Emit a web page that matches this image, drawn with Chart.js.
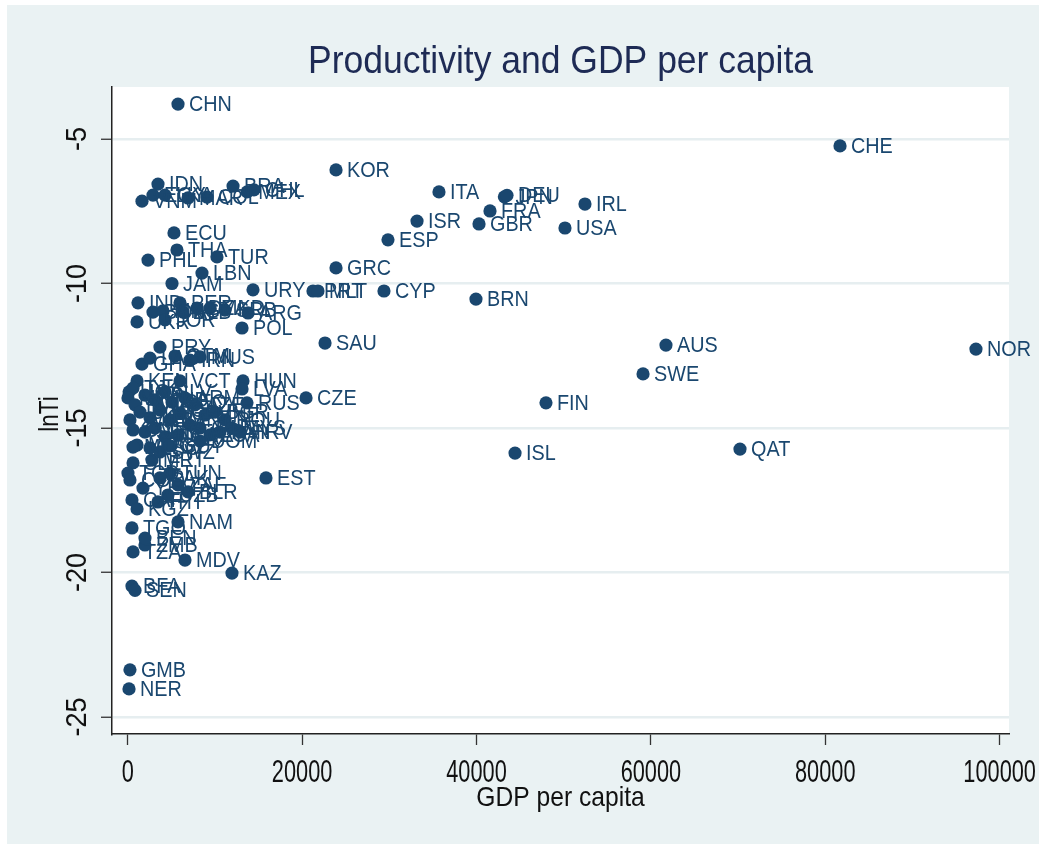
<!DOCTYPE html>
<html>
<head>
<meta charset="utf-8">
<script src="https://cdn.jsdelivr.net/npm/chart.js@4.4.1/dist/chart.umd.min.js"></script>
<style>
html,body{margin:0;padding:0;background:#ffffff;}
#wrap{width:1039px;height:844px;}
</style>
</head>
<body>
<div id="wrap"><canvas id="c" width="1039" height="844"></canvas></div>
<script>
const countries = ["CHN","CHE","KOR","IDN","BRA","CHL","MEX","VNM","EGY","LKA","MAR","COL","ECU","THA","TUR","PHL","LBN","JAM","URY","PRT","MLT","GRC","CYP","ESP","ISR","ITA","JPN","DEU","FRA","GBR","IRL","USA","BRN","SAU","AUS","NOR","SWE","FIN","CZE","ISL","QAT","EST","KAZ","MDV","GMB","NER","BFA","SEN","IND","PER","BOL","MNG","ALB","DZA","MKD","SRB","ARG","UKR","JOR","POL","PRY","MUS","GHA","LAO","GTM","IRN","KEN","VCT","UGA","TJK","HUN","LVA","RUS","MWI","RWA","NPL","HND","SLV","GEO","ARM","AZE","MNE","BGR","ROU","MYS","BGD","KHM","NIC","BTN","CPV","FJI","GAB","LCA","ZWE","CMR","SDN","CIV","NGA","BWA","DOM","PAN","HRV","MDG","LSO","SWZ","GUY","MLI","SLE","TCD","COD","YEM","CAF","KGZ","TGO","TZA","ZMB","BEN","NAM","TUN","MRT","PAK","ZAF","BLR","UZB","HTI"];
const gdpPerCapita = [5770,81690,23890,3475,12080,14480,13700,1640,2900,4280,6920,9100,5310,5650,10240,2330,8520,5080,14370,21250,21820,23890,29390,29850,33180,35700,43200,43500,41550,40290,52440,50150,39940,22630,61730,97280,59100,47970,20450,44420,70220,15860,11960,6570,260,150,490,840,1180,6000,2900,4050,6340,7950,9440,11160,13800,1070,4280,13110,3700,8290,1640,2560,5420,7140,1070,6000,160,610,13220,13110,13680,30,840,1980,3130,4280,5080,6570,7720,8860,10010,11160,11960,1410,2560,3700,4850,6000,7140,8290,9440,260,610,1980,3130,4280,5770,8290,10580,12880,1070,2560,3700,4850,610,610,30,260,1750,490,1070,490,610,1980,1980,5770,4850,2790,3700,5770,6920,4620,3470];
const lnTi = [-3.79,-5.24,-6.07,-6.56,-6.63,-6.76,-6.83,-7.15,-6.94,-6.94,-7.04,-7.01,-8.25,-8.84,-9.08,-9.19,-9.64,-10.00,-10.22,-10.26,-10.26,-9.46,-10.26,-8.49,-7.84,-6.83,-7.00,-6.95,-7.49,-7.94,-7.25,-8.08,-10.54,-12.06,-12.13,-12.27,-13.13,-14.13,-13.96,-15.87,-15.73,-16.73,-20.02,-19.57,-23.37,-24.03,-20.47,-20.62,-10.67,-10.67,-10.99,-10.95,-10.99,-10.85,-10.85,-10.92,-11.02,-11.33,-11.26,-11.54,-12.20,-12.54,-12.79,-12.58,-12.51,-12.65,-13.37,-13.37,-13.75,-13.62,-13.37,-13.65,-14.13,-13.96,-14.20,-13.86,-14.03,-13.75,-14.10,-13.96,-14.20,-14.55,-14.45,-14.72,-15.00,-14.45,-14.65,-14.38,-14.72,-14.48,-14.90,-15.00,-15.24,-14.72,-15.07,-15.14,-15.00,-15.31,-15.24,-15.45,-15.14,-15.14,-15.59,-15.69,-15.83,-15.62,-15.66,-16.21,-16.56,-16.80,-17.08,-17.49,-17.80,-18.46,-19.29,-19.05,-18.81,-18.25,-16.56,-16.11,-16.73,-16.97,-17.21,-17.32,-17.56];
const xTickValues = [0,20000,40000,60000,80000,100000];
const yTickValues = [-25,-20,-15,-10,-5];
const chartTitle = "Productivity and GDP per capita";
const xTitle = "GDP per capita";
const yTitle = "lnTi";

const FONT = "'Liberation Sans', Arial, Helvetica, sans-serif";
const NAVY = "#1a476f";

function drawText(ctx, s, x, y, size, sx, align, baseline, color, rot) {
  ctx.save();
  ctx.translate(x, y);
  if (rot) ctx.rotate(rot);
  ctx.scale(sx, 1);
  ctx.font = size + "px " + FONT;
  ctx.textAlign = align;
  ctx.textBaseline = baseline;
  ctx.fillStyle = color;
  ctx.fillText(s, 0, 0);
  ctx.restore();
}

const points = gdpPerCapita.map((g, i) => ({x: g, y: lnTi[i]}));

const stataPlugin = {
  id: 'stata',
  beforeDraw(chart) {
    const ctx = chart.ctx, a = chart.chartArea;
    ctx.save();
    ctx.fillStyle = '#ffffff';
    ctx.fillRect(0, 0, chart.width, chart.height);
    ctx.fillStyle = '#eaf2f3';
    ctx.fillRect(7, 5, chart.width - 7, chart.height - 5);
    ctx.fillStyle = '#ffffff';
    ctx.fillRect(a.left, a.top, a.right - a.left, a.bottom - a.top);
    ctx.restore();
  },
  afterDatasetsDraw(chart) {
    const ctx = chart.ctx;
    const meta = chart.getDatasetMeta(0);
    meta.data.forEach((el, i) => {
      drawText(ctx, countries[i], el.x + 11, el.y + 1, 22, 0.9, 'left', 'middle', NAVY, 0);
    });
  },
  afterDraw(chart) {
    const ctx = chart.ctx, a = chart.chartArea;
    const xs = chart.scales.x, ys = chart.scales.y;
    const cx = (a.left + a.right) / 2;
    drawText(ctx, chartTitle, cx, 73, 39, 0.91, 'center', 'alphabetic', '#1e2b55', 0);
    xTickValues.forEach(v => {
      drawText(ctx, String(v), xs.getPixelForValue(v), 782, 32, 0.68, 'center', 'alphabetic', '#111111', 0);
    });
    drawText(ctx, xTitle, cx, 806, 28, 0.88, 'center', 'alphabetic', '#111111', 0);
    yTickValues.forEach(v => {
      drawText(ctx, String(v), 86, ys.getPixelForValue(v), 30, 0.9, 'center', 'alphabetic', '#111111', -Math.PI / 2);
    });
    drawText(ctx, yTitle, 58, 414, 28, 0.8, 'center', 'alphabetic', '#111111', -Math.PI / 2);
  }
};

new Chart(document.getElementById('c'), {
  type: 'scatter',
  data: {
    datasets: [{
      data: points,
      backgroundColor: NAVY,
      borderWidth: 0,
      pointRadius: 6.6,
      pointHoverRadius: 6.6
    }]
  },
  options: {
    responsive: false,
    animation: false,
    devicePixelRatio: 1,
    layout: {padding: {left: 0, top: 87, right: 30, bottom: 0}},
    plugins: {legend: {display: false}, tooltip: {enabled: false}, title: {display: false}},
    scales: {
      x: {
        type: 'linear',
        min: -1800,
        max: 101070,
        afterBuildTicks: s => { s.ticks = xTickValues.map(v => ({value: v})); },
        afterFit: s => { s.height = 844 - 734; },
        ticks: {display: false},
        grid: {drawOnChartArea: false, drawTicks: true, tickLength: 11, tickColor: '#333333', tickWidth: 1.3, color: '#333333'},
        border: {display: true, color: '#222222', width: 1.5}
      },
      y: {
        type: 'linear',
        min: -25.59,
        max: -3.2,
        afterBuildTicks: s => { s.ticks = yTickValues.map(v => ({value: v})); },
        afterFit: s => { s.width = 112; },
        ticks: {display: false},
        grid: {drawOnChartArea: true, color: '#e6eef0', lineWidth: 2.5, drawTicks: true, tickLength: 11, tickColor: '#333333', tickWidth: 1.3},
        border: {display: true, color: '#222222', width: 1.5}
      }
    }
  },
  plugins: [stataPlugin]
});
</script>
</body>
</html>
